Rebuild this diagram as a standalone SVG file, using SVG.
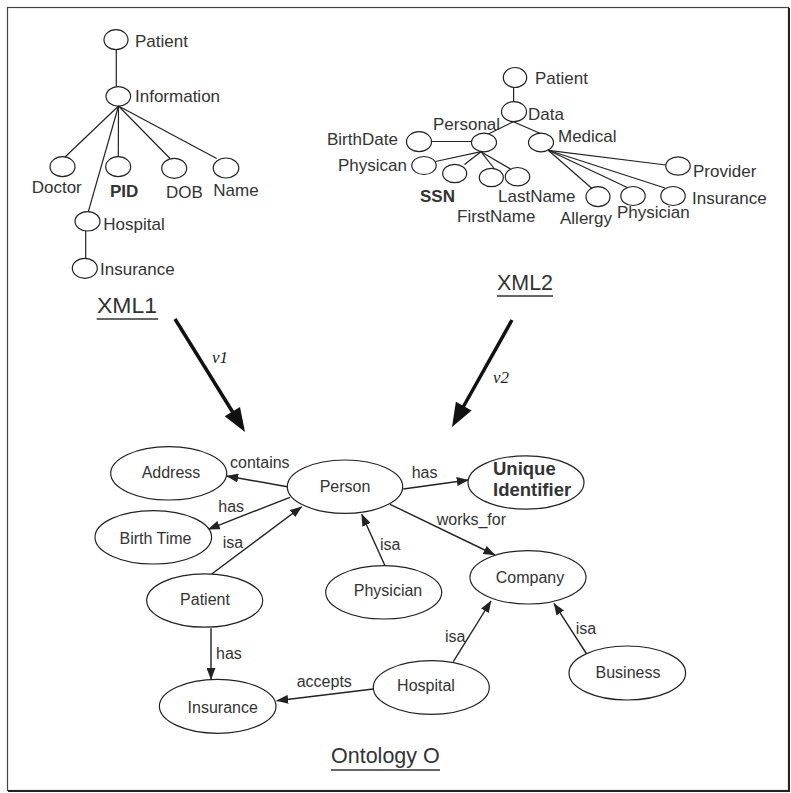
<svg xmlns="http://www.w3.org/2000/svg" width="791" height="793" viewBox="0 0 791 793">
<style>
text{font-family:"Liberation Sans",Arial,Helvetica,sans-serif;fill:#333}
.t{font-size:17px}
.o{font-size:16px}
.c{text-anchor:middle}
.b{font-weight:bold}
.tn{fill:#fff;stroke:#222;stroke-width:1.2}
.on{fill:#fff;stroke:#222;stroke-width:1.2}
.tl{stroke:#222;stroke-width:1.2;fill:none}
.e{stroke:#222;stroke-width:1.4;fill:none;marker-end:url(#ah)}
.big{stroke:#111;stroke-width:3.5;fill:none}
.hd{fill:#111}
.v{font-family:"Liberation Serif","Times New Roman",serif;font-style:italic;font-size:17px;fill:#222}
.title{font-size:22px}
.ul{stroke:#333;stroke-width:1.3}
</style>
<defs>
<marker id="ah" viewBox="0 0 12 9" refX="11.5" refY="4.5" markerWidth="12" markerHeight="9" markerUnits="userSpaceOnUse" orient="auto">
<path d="M0,0 L12,4.5 L0,9 z" fill="#222"/>
</marker>
</defs>
<rect x="0" y="0" width="791" height="793" fill="#fff"/>
<rect x="7.5" y="7.5" width="781" height="783" fill="none" stroke="#444" stroke-width="1.2"/>
<path d="M789,8 V791 H8" fill="none" stroke="#222" stroke-width="2"/>

<g id="connectors">
<!-- XML1 tree -->
<line class="tl" x1="116.3" y1="50" x2="116.3" y2="86.7"/>
<line class="tl" x1="118.5" y1="106" x2="65" y2="157"/>
<line class="tl" x1="118.5" y1="106" x2="118.3" y2="156.7"/>
<line class="tl" x1="118.5" y1="106" x2="170" y2="158.5"/>
<line class="tl" x1="118.5" y1="106" x2="216.7" y2="158.5"/>
<line class="tl" x1="118.5" y1="106" x2="88.3" y2="211.7"/>
<line class="tl" x1="85.7" y1="231" x2="85.7" y2="258.3"/>
<!-- XML2 tree -->
<line class="tl" x1="513.6" y1="87.5" x2="513.6" y2="101.8"/>
<line class="tl" x1="513.3" y1="121.7" x2="488.3" y2="134"/>
<line class="tl" x1="513.3" y1="121.7" x2="541.7" y2="134"/>
<line class="tl" x1="431.7" y1="141.5" x2="471.7" y2="141.5"/>
<line class="tl" x1="481" y1="151.7" x2="435.5" y2="161.5"/>
<line class="tl" x1="481" y1="151.7" x2="464.5" y2="164.5"/>
<line class="tl" x1="481" y1="151.7" x2="494.5" y2="169"/>
<line class="tl" x1="481" y1="151.7" x2="510.5" y2="169"/>
<line class="tl" x1="548.3" y1="150.3" x2="591.7" y2="188.3"/>
<line class="tl" x1="548.3" y1="150.3" x2="628.3" y2="188"/>
<line class="tl" x1="548.3" y1="150.3" x2="665" y2="188"/>
<line class="tl" x1="548.3" y1="150.3" x2="666" y2="165"/>
<!-- mapping arrows -->
<line class="big" x1="175" y1="319" x2="234.5" y2="415"/>
<polygon class="hd" points="245,432 224.7,416.3 240,406.9"/>
<line class="big" x1="512" y1="320" x2="461.5" y2="410"/>
<polygon class="hd" points="452,427 455.9,401.7 471.6,410.5"/>
<!-- ontology edges -->
<line class="e" x1="287.3" y1="486.7" x2="226.7" y2="476"/>
<line class="e" x1="290" y1="497.3" x2="208.3" y2="529.3"/>
<line class="e" x1="211.7" y1="574" x2="301.7" y2="506.7"/>
<line class="e" x1="385" y1="565.7" x2="361.7" y2="514.3"/>
<line class="e" x1="403.3" y1="489" x2="468.3" y2="480"/>
<line class="e" x1="390" y1="504.3" x2="495" y2="555"/>
<line class="e" x1="453.3" y1="661.7" x2="491" y2="601"/>
<line class="e" x1="587.3" y1="655" x2="554" y2="603.3"/>
<line class="e" x1="211" y1="628.3" x2="211" y2="679.3"/>
<line class="e" x1="373.3" y1="689" x2="276.7" y2="700.7"/>
<!-- edge labels -->
<text class="o" x="230" y="468.3">contains</text>
<text class="o" x="218.3" y="511.7">has</text>
<text class="o" x="222.7" y="548.3">isa</text>
<text class="o" x="380" y="550">isa</text>
<text class="o" x="411.7" y="478.3">has</text>
<text class="o" x="436.7" y="525">works_for</text>
<text class="o" x="445" y="641.7">isa</text>
<text class="o" x="575.7" y="634.3">isa</text>
<text class="o" x="216" y="659.3">has</text>
<text class="o" x="296.7" y="686.7">accepts</text>
<text class="v" x="212" y="363">v1</text>
<text class="v" x="493" y="383">v2</text>
</g>

<!-- XML1 nodes -->
<g id="x1-patient"><ellipse class="tn" cx="116" cy="39.7" rx="12" ry="10"/><text class="t" x="135" y="47.3">Patient</text></g>
<g id="x1-information"><ellipse class="tn" cx="118.3" cy="96.3" rx="12.3" ry="9.7"/><text class="t" x="135" y="101.7">Information</text></g>
<g id="x1-doctor"><ellipse class="tn" cx="62.5" cy="166.7" rx="12.5" ry="10"/><text class="t" x="31.7" y="193.3">Doctor</text></g>
<g id="x1-pid"><ellipse class="tn" cx="118.2" cy="166.7" rx="12.5" ry="10"/><text class="t b" x="110" y="196.7">PID</text></g>
<g id="x1-dob"><ellipse class="tn" cx="174.2" cy="168.3" rx="12.5" ry="10"/><text class="t" x="166" y="198.3">DOB</text></g>
<g id="x1-name"><ellipse class="tn" cx="226" cy="168" rx="12.8" ry="10"/><text class="t" x="213.3" y="196">Name</text></g>
<g id="x1-hospital"><ellipse class="tn" cx="87.5" cy="221.3" rx="12.5" ry="9.7"/><text class="t" x="103.3" y="230">Hospital</text></g>
<g id="x1-insurance"><ellipse class="tn" cx="84.8" cy="268.3" rx="12.5" ry="10"/><text class="t" x="100" y="275">Insurance</text></g>
<g id="xml1-title"><text class="title" x="97" y="313" textLength="60" lengthAdjust="spacingAndGlyphs">XML1</text><line class="ul" x1="96.7" y1="319" x2="158" y2="319"/></g>

<!-- XML2 nodes -->
<g id="x2-patient"><ellipse class="tn" cx="515" cy="77.5" rx="11.7" ry="10"/><text class="t" x="535" y="84.3">Patient</text></g>
<g id="x2-data"><ellipse class="tn" cx="514" cy="111.7" rx="12.5" ry="10"/><text class="t" x="528" y="120">Data</text></g>
<g id="x2-personal"><ellipse class="tn" cx="484" cy="142.5" rx="12.5" ry="9.3"/><text class="t" x="433" y="129.5">Personal</text></g>
<g id="x2-medical"><ellipse class="tn" cx="541" cy="142.5" rx="12.5" ry="9.3"/><text class="t" x="558" y="142">Medical</text></g>
<g id="x2-birthdate"><ellipse class="tn" cx="419" cy="141.7" rx="12.5" ry="10"/><text class="t" x="327" y="145">BirthDate</text></g>
<g id="x2-physican"><ellipse class="tn" cx="424" cy="165.5" rx="12.2" ry="9"/><text class="t" x="338" y="171">Physican</text></g>
<g id="x2-ssn"><ellipse class="tn" cx="454.7" cy="173.5" rx="12" ry="9.2"/><text class="t b" x="420" y="201.7">SSN</text></g>
<g id="x2-firstname"><ellipse class="tn" cx="491.3" cy="177.5" rx="12" ry="9.2"/><text class="t" x="457" y="221.7">FirstName</text></g>
<g id="x2-lastname"><ellipse class="tn" cx="517.5" cy="176.7" rx="12.2" ry="9.2"/><text class="t" x="498" y="202.3">LastName</text></g>
<g id="x2-allergy"><ellipse class="tn" cx="598" cy="196.7" rx="12" ry="10"/><text class="t" x="560" y="223.5">Allergy</text></g>
<g id="x2-physician"><ellipse class="tn" cx="633" cy="196" rx="12.2" ry="9.5"/><text class="t" x="617" y="218">Physician</text></g>
<g id="x2-insurance"><ellipse class="tn" cx="673" cy="196" rx="12.2" ry="9.5"/><text class="t" x="692" y="204">Insurance</text></g>
<g id="x2-provider"><ellipse class="tn" cx="678" cy="166" rx="12.2" ry="9.2"/><text class="t" x="693" y="176.7">Provider</text></g>
<g id="xml2-title"><text class="title" x="497" y="290" textLength="56" lengthAdjust="spacingAndGlyphs">XML2</text><line class="ul" x1="497" y1="296" x2="553" y2="296"/></g>

<!-- Ontology nodes -->
<g id="o-address"><ellipse class="on" cx="168.7" cy="473.3" rx="58" ry="26.7"/><text class="o c" x="171" y="478.3">Address</text></g>
<g id="o-person"><ellipse class="on" cx="345" cy="486.7" rx="57.7" ry="26.7"/><text class="o c" x="345" y="492">Person</text></g>
<g id="o-birthtime"><ellipse class="on" cx="153.3" cy="537.3" rx="58.3" ry="26.7"/><text class="o c" x="155.5" y="544">Birth Time</text></g>
<g id="o-unique"><ellipse class="on" cx="526" cy="482.5" rx="58" ry="26.7"/><text class="b" x="493" y="475" font-size="18.5">Unique</text><text class="b" x="493" y="496" font-size="18.5">Identifier</text></g>
<g id="o-patient"><ellipse class="on" cx="204.7" cy="600.5" rx="58" ry="26.7"/><text class="o c" x="205" y="605">Patient</text></g>
<g id="o-physician"><ellipse class="on" cx="383.7" cy="592.3" rx="58" ry="26.7"/><text class="o c" x="388" y="596">Physician</text></g>
<g id="o-company"><ellipse class="on" cx="528" cy="577.3" rx="58" ry="26.7"/><text class="o c" x="530" y="583.3">Company</text></g>
<g id="o-business"><ellipse class="on" cx="627.3" cy="673" rx="58.3" ry="27"/><text class="o c" x="628" y="678.3">Business</text></g>
<g id="o-hospital"><ellipse class="on" cx="431.3" cy="687.5" rx="58" ry="26.8"/><text class="o c" x="426" y="691">Hospital</text></g>
<g id="o-insurance"><ellipse class="on" cx="217.7" cy="706.3" rx="58.3" ry="27"/><text class="o c" x="222.7" y="712.7">Insurance</text></g>
<g id="ontology-title"><text x="331" y="763" font-size="21.5">Ontology O</text><line class="ul" x1="331" y1="770" x2="440" y2="770"/></g>
</svg>
